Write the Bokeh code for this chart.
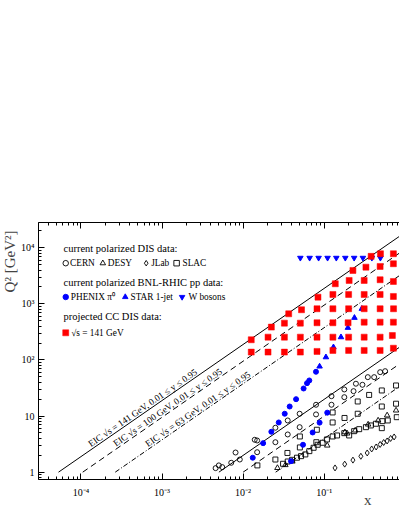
import math
from bokeh.plotting import figure
from bokeh.models import LogAxis, FixedTicker, CustomJSTickFormatter, Label, Range1d, Title
from bokeh.core.properties import value
from bokeh.embed import file_html
from bokeh.resources import INLINE

# ---------------- data ----------------
cern_x = [0.00458, 0.00502, 0.00553, 0.00714, 0.00807, 0.0091, 0.0139, 0.0149, 0.0149,
          0.0250, 0.0250, 0.0355, 0.0355, 0.0498, 0.0498, 0.0793, 0.0793, 0.123, 0.123,
          0.177, 0.177, 0.230, 0.246, 0.296, 0.345, 0.413, 0.490, 0.564]
cern_q2 = [1.18, 1.32, 1.23, 1.47, 2.24, 1.68, 3.78, 3.67, 2.27,
           6.19, 3.42, 8.35, 4.70, 11.0, 6.34, 15.9, 10.7, 22.6, 15.9,
           29.8, 21.7, 27.8, 37.7, 36.1, 49.4, 49.4, 60.6, 63.1]

desy_x = [0.0265, 0.0332, 0.0405, 0.109, 0.180, 0.192, 0.241, 0.348, 0.462, 0.597, 0.769]
desy_q2 = [1.19, 1.34, 1.55, 2.99, 5.16, 4.90, 5.54, 7.08, 8.35, 10.3, 12.6]

jlab_x = [0.136, 0.179, 0.226, 0.283, 0.339, 0.385, 0.437, 0.489, 0.541, 0.597, 0.659, 0.728]
jlab_q2 = [1.19, 1.39, 1.64, 1.92, 2.20, 2.59, 2.81, 3.12, 3.38, 3.60, 3.99, 4.24]

slac_x = [0.0150, 0.0250, 0.0352, 0.0501, 0.0501, 0.0811, 0.080, 0.127, 0.127, 0.178,
          0.259, 0.259, 0.358, 0.513, 0.513, 0.769, 0.769,
          0.0311, 0.0355, 0.0402, 0.0462, 0.0518, 0.0585, 0.0656, 0.0740, 0.0830, 0.0955,
          0.108, 0.127, 0.144, 0.177, 0.203, 0.234, 0.270, 0.327, 0.376, 0.434, 0.513,
          0.522, 0.608, 0.785]
slac_q2 = [1.32, 1.68, 2.20, 4.33, 2.76, 5.70, 3.42, 11.6, 7.69, 9.25,
           18.2, 11.0, 23.8, 28.6, 14.8, 35.1, 16.6,
           1.41, 1.55, 1.66, 1.81, 1.93, 2.07, 2.37, 2.72, 3.08, 3.34,
           3.83, 4.33, 4.51, 4.96, 4.51, 5.38, 5.84, 6.34, 6.80, 7.29, 6.09,
           8.11, 8.35, 9.55]

phenix_x = [0.01315, 0.01766, 0.0223, 0.0275, 0.0326, 0.0375, 0.0450, 0.0557, 0.0614, 0.0655,
            0.0792, 0.0390, 0.0548, 0.0720, 0.0877, 0.109]
phenix_q2 = [1.81, 3.29, 5.25, 7.69, 11.0, 14.8, 20.0, 31.0, 38.6, 43.1,
             61.6, 1.57, 3.08, 5.10, 7.63, 11.5]

star_x = [0.0877, 0.105, 0.130, 0.161, 0.196, 0.236, 0.291]
star_q2 = [76.6, 112, 169, 255, 375, 565, 818]

wbos_x = [0.0508, 0.0661, 0.0853, 0.110, 0.141, 0.182, 0.234, 0.300, 0.387, 0.493]
wbos_q2 = [6600] * len(wbos_x)

cc_x = [0.0126, 0.0203, 0.0323, 0.0508, 0.0815, 0.128, 0.2, 0.311, 0.489, 0.713,
        0.0126, 0.0203, 0.0323, 0.0508, 0.0815, 0.128, 0.2, 0.311, 0.489, 0.693,
        0.0223, 0.0323, 0.0508, 0.0815, 0.128, 0.197, 0.311, 0.489, 0.713,
        0.0365, 0.0525, 0.0815, 0.128, 0.2, 0.311, 0.489, 0.716,
        0.0838, 0.128, 0.2, 0.311, 0.489, 0.713,
        0.137, 0.203, 0.311, 0.489, 0.713,
        0.226, 0.327, 0.489, 0.713,
        0.379, 0.494, 0.713]
cc_q2 = [138, 138, 138, 138, 142, 148, 148, 148, 148, 162,
         229, 255, 255, 255, 255, 255, 255, 255, 255, 273,
         385, 453, 453, 460, 460, 460, 472, 472, 472,
         665, 785, 818, 818, 818, 818, 818, 818,
         1318, 1472, 1472, 1472, 1472, 1356,
         2280, 2614, 2614, 2690, 2507,
         3940, 4510, 4645, 5190,
         7030, 7820, 7820]

# EIC kinematic limits: sqrt(s) values and y range written in the chart
eic_sqrt_s = [141, 100, 63]
eic_y_lo, eic_y_hi = 0.01, 0.95
eic_dash = ["solid", "6 4", "5 2 1 2"]
eic_label_x = [1.27e-4, 2.58e-4, 6.4e-4]
eic_labels = ["EIC \u221as = 141 GeV, 0.01 \u2264 y \u2264 0.95",
              "EIC \u221as = 100 GeV, 0.01 \u2264 y \u2264 0.95",
              "EIC \u221as = 63 GeV, 0.01 \u2264 y \u2264 0.95"]

x_tick_values = [1e-4, 1e-3, 1e-2, 1e-1]
x_tick_labels = ["10\u207b\u2074", "10\u207b\u00b3", "10\u207b\u00b2", "10\u207b\u00b9"]
y_tick_values = [1, 10, 100, 1000, 10000]
y_tick_labels = ["1", "10", "10\u00b2", "10\u00b3", "10\u2074"]

# ---------------- layout ----------------
W, H = 399, 516
ML, MR, MT, MB = 37, 0, 222, 37
X0, X1 = 3e-5, 0.848
Y0, Y1 = 0.74, 2.82e4
FONT = "Liberation Serif"

pxdx = (W - ML - MR) / math.log10(X1 / X0)
pxdy = (H - MT - MB) / math.log10(Y1 / Y0)

p = figure(width=W, height=H, x_axis_type="log", y_axis_type="log",
           x_range=Range1d(X0, X1), y_range=Range1d(Y0, Y1),
           output_backend="svg", toolbar_location=None,
           min_border_left=ML, min_border_right=MR, min_border_top=MT, min_border_bottom=MB)
p.outline_line_color = None
p.xgrid.visible = False
p.ygrid.visible = False
p.background_fill_color = "white"
p.border_fill_color = "white"


def fmt(vals, labs):
    return CustomJSTickFormatter(args=dict(vals=vals, labs=labs), code="""
        const e = Math.round(Math.log10(tick));
        for (let i = 0; i < vals.length; i++) {
            if (Math.round(Math.log10(vals[i])) == e) return labs[i];
        }
        return String(tick);
    """)


def minor(lo, hi):
    out = []
    for k in range(lo, hi):
        for m in range(2, 10):
            out.append(m * 10.0 ** k)
    return out


x_ticker = FixedTicker(ticks=x_tick_values, minor_ticks=minor(-5, 1))
y_ticker = FixedTicker(ticks=y_tick_values, minor_ticks=minor(-1, 5))


def style(ax, ticker):
    ax.ticker = ticker
    ax.axis_line_color = "black"
    ax.axis_line_width = 1
    ax.major_tick_in = 6
    ax.major_tick_out = 0
    ax.minor_tick_in = 3
    ax.minor_tick_out = 0
    ax.major_tick_line_color = "black"
    ax.minor_tick_line_color = "black"
    ax.major_label_text_font = FONT
    ax.major_label_text_font_size = "10px"
    ax.major_label_text_color = "black"


style(p.xaxis[0], x_ticker)
p.xaxis[0].formatter = fmt(x_tick_values, x_tick_labels)
p.xaxis[0].major_label_standoff = 7
style(p.yaxis[0], y_ticker)
p.yaxis[0].formatter = fmt(y_tick_values, y_tick_labels)
p.yaxis[0].major_label_standoff = 4

top = LogAxis()
style(top, x_ticker)
top.major_label_text_color = None
top.major_label_text_font_size = "6px"
top.major_label_standoff = 0
p.add_layout(top, "above")

# axis titles (ROOT style: at the far end of each axis)
p.add_layout(Title(text="Q\u00b2 [GeV\u00b2]", align="right", offset=8, standoff=0,
                   text_font=FONT, text_font_size="15px", text_font_style="normal",
                   vertical_align="middle"), "left")
title_kw = dict(text="x", align="right", offset=28, text_font=FONT,
                text_font_size="15px", text_font_style="normal", vertical_align="top")
try:
    x_title = Title(standoff=-18, **title_kw)
except Exception:
    x_title = Title(standoff=0, **title_kw)
p.add_layout(x_title, "below")

# ---------------- EIC lines ----------------
for s, dash in zip(eic_sqrt_s, eic_dash):
    for yy in (eic_y_hi, eic_y_lo):
        q2max = s * s * yy
        p.line([1.0 / q2max, 1.0], [1.0, q2max], line_color="black", line_width=1,
               line_dash=dash)

ang = math.atan2(pxdy, pxdx)
lab_y = [s * s * eic_y_hi * x for s, x in zip(eic_sqrt_s, eic_label_x)]
p.text(x=eic_label_x, y=lab_y, text=eic_labels, angle=ang, text_font=value(FONT),
       text_font_size="9.3px", text_baseline="alphabetic", text_align="left",
       y_offset=-6, x_offset=0, text_color="black")

# ---------------- data markers ----------------
p.scatter(cern_x, cern_q2, marker="circle", size=5, fill_color=None, line_color="black", line_width=0.9)
p.scatter(desy_x, desy_q2, marker="triangle", size=5.5, fill_color=None, line_color="black", line_width=0.9)
p.scatter(jlab_x, jlab_q2, marker="diamond", size=6, fill_color=None, line_color="black", line_width=0.9)
p.scatter(slac_x, slac_q2, marker="square", size=5, fill_color=None, line_color="black", line_width=0.9)
p.scatter(phenix_x, phenix_q2, marker="circle", size=5, fill_color="blue", line_color="blue")
p.scatter(star_x, star_q2, marker="triangle", size=5.5, fill_color="blue", line_color="blue")
p.scatter(wbos_x, wbos_q2, marker="inverted_triangle", size=5.5, fill_color="blue", line_color="blue")
p.scatter(cc_x, cc_q2, marker="square", size=6, fill_color="red", line_color="red", line_width=0.5)

# ---------------- legend (page pixel layout) ----------------
FL, FB = ML, H - MB   # page position of frame left / bottom


def to_data(px, py):
    return (10 ** (math.log10(X0) + (px - FL) / pxdx),
            10 ** (math.log10(Y0) + (FB - py) / pxdy))


def label(px, py, text, size, align="left", baseline="middle", angle=0.0):
    p.add_layout(Label(x=px - FL, y=FB - py, x_units="screen", y_units="screen",
                       text=text, text_font=FONT, text_font_size=size,
                       text_align=align, text_baseline=baseline, angle=angle,
                       text_color="black"))


label(62, 247.7, "current polarized DIS data:", "10.5px")
label(62, 281.7, "current polarized BNL-RHIC pp data:", "10.5px")
label(62, 315.7, "projected CC DIS data:", "10.5px")

legend_rows = [
    (64.3, 262.7, "circle", None, "black", 68.5, "CERN"),
    (101.5, 262.7, "triangle", None, "black", 106.3, "DESY"),
    (145.0, 262.7, "diamond", None, "black", 149.7, "JLab"),
    (175.5, 262.7, "square", None, "black", 181.0, "SLAC"),
    (64.3, 296.5, "circle", "blue", "blue", 69.3, "PHENIX \u03c0\u2070"),
    (124.0, 296.5, "triangle", "blue", "blue", 129.0, "STAR 1-jet"),
    (181.0, 296.5, "inverted_triangle", "blue", "blue", 187.0, "W bosons"),
    (64.3, 332.3, "square", "red", "red", 69.7, "\u221as = 141 GeV"),
]
for mx, my, mk, fc, lc, tx, txt in legend_rows:
    dx, dy = to_data(mx, my)
    sz = 6 if (mk == "square" and fc == "red") else 5.5
    p.scatter([dx], [dy], marker=mk, size=sz, fill_color=fc, line_color=lc,
              line_width=0.5 if fc == "red" else 0.9)
    label(tx, my, txt, "9.3px")

open("out.html", "w").write(file_html(p, INLINE))
